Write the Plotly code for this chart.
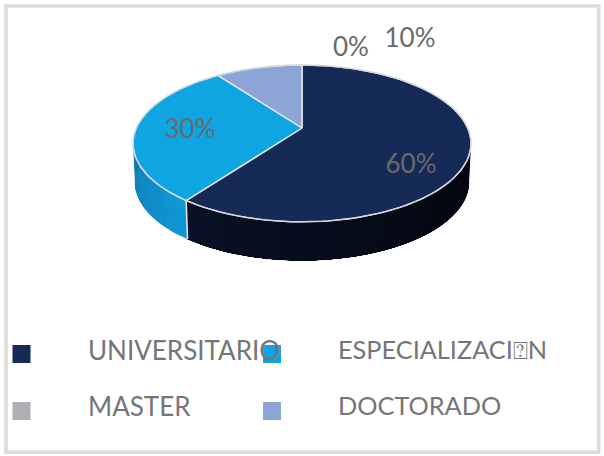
import numpy as np
import plotly.graph_objects as go

categories = ['UNIVERSITARIO', 'ESPECIALIZACI\u2370N', 'MASTER', 'DOCTORADO']
values = [60, 30, 0, 10]
pct_labels = ['60%', '30%', '0%', '10%']
colors = ['#152a57', '#0ea5e2', '#adafb4', '#8ca5d6']

# where the percent labels sit, in pixels
label_x = [411, 190, 351, 410]
label_y = [166, 131, 49, 40]

# legend grid in pixels
legend_sw_x = [21.5, 272, 21.5, 272]
legend_tx_x = [88, 338, 88, 338]
legend_sw_y = [354, 354, 411, 411]
legend_tx_y = [353, 353, 409, 409]
legend_tx_size = [26, 25.3, 26, 25.3]

# perspective of the pie, fitted on the picture
CX, CY = 302, 128
RX, RY = 165.7, 75.4
K = 0.197
DEPTH = 38.5

fig = go.Figure()


def project(t, depth=0.0):
    # t in radians, clockwise from the top
    u, v = np.sin(t), np.cos(t)
    w = 1 + K * v
    sx = 1 - 0.012 * (depth > 0)
    return CX + sx * RX * u / w, CY - RY * v / w + depth


def poly(x, y, fill, line=None, width=0):
    fig.add_trace(go.Scatter(x=list(x), y=list(y), mode='lines', fill='toself',
                             fillcolor=fill, hoverinfo='skip', showlegend=False,
                             line=dict(color=line or fill, width=width)))


def mix(c1, c2, f):
    a = np.array(c1)
    b = np.array(c2)
    r = a + (b - a) * f
    return 'rgb(%d,%d,%d)' % tuple(r)


# slice angles come from the values, first slice starts at the top going clockwise
shares = np.array(values) / sum(values)
edges = np.concatenate([[0], np.cumsum(shares)]) * 2 * np.pi

# outer light rim behind everything
t = np.linspace(np.pi / 2 - 0.05, 3 * np.pi / 2 + 0.05, 120)
xb, yb = project(t, DEPTH)
tt = np.linspace(0, 2 * np.pi, 240)
xt, yt = project(tt)
fig.add_trace(go.Scatter(x=xb, y=yb, mode='lines', line=dict(color='#d0d0d0', width=1.2),
                         hoverinfo='skip', showlegend=False))

# side wall, each strip runs to the end of the wall and the next paints over it (no seams)
wall_ranges = [
    (np.pi / 2 - 0.03, edges[1], (3, 4, 8), (9, 17, 38), 30),
    (edges[1], 3 * np.pi / 2 + 0.03, (16, 150, 210), (20, 120, 175), 12),
]
for a, b, c1, c2, n in wall_ranges:
    cuts = np.linspace(a, b, n + 1)
    for i in range(n):
        s = np.linspace(cuts[i], b, 60)
        x1, y1 = project(s)
        x2, y2 = project(s[::-1], DEPTH)
        poly(np.r_[x1, x2], np.r_[y1, y2], mix(c1, c2, i / (n - 1)))

# white line on the wall at the slice edge
xe1, ye1 = project(np.array([edges[1]]))
xe2, ye2 = project(np.array([edges[1]]), DEPTH)
fig.add_trace(go.Scatter(x=[xe1[0], xe2[0]], y=[ye1[0], ye2[0]], mode='lines',
                         line=dict(color='#e8edf2', width=1.5), hoverinfo='skip', showlegend=False))

# top face
for i, val in enumerate(values):
    if val == 0:
        continue
    s = np.linspace(edges[i], edges[i + 1], 120)
    x, y = project(s)
    poly(np.r_[CX, x, CX], np.r_[CY, y, CY], colors[i], '#e6e8ec', 1.4)

# grey outer rim of the top
fig.add_trace(go.Scatter(x=xt, y=yt, mode='lines', line=dict(color='#d4d6da', width=1.3),
                         hoverinfo='skip', showlegend=False))

# percent labels
fig.add_trace(go.Scatter(x=label_x, y=label_y, mode='text', text=pct_labels,
                         textposition='middle center', hoverinfo='skip', showlegend=False,
                         textfont=dict(family='Lato', size=26, color='#6a6a6a')))

# legend
fig.add_trace(go.Scatter(x=legend_sw_x, y=legend_sw_y, mode='markers', hoverinfo='skip', showlegend=False,
                         marker=dict(symbol='square', size=18, color=colors, line=dict(width=0))))
fig.add_trace(go.Scatter(x=legend_tx_x, y=legend_tx_y, mode='text', text=categories,
                         textposition='middle right', hoverinfo='skip', showlegend=False,
                         textfont=dict(family='Lato, DejaVu Sans', size=legend_tx_size, color='#757579')))

fig.update_layout(
    width=604, height=456,
    margin=dict(l=0, r=0, t=0, b=0),
    paper_bgcolor='white', plot_bgcolor='white',
    xaxis=dict(range=[0, 604], visible=False),
    yaxis=dict(range=[456, 0], visible=False),
    shapes=[dict(type='rect', x0=6, y0=6, x1=598.7, y1=452.3,
                 line=dict(color='#dcdcdc', width=3.6))],
)

# page has a default body margin, drop it
fig.write_html("out.html", post_script="document.body.style.margin='0';",
               config=dict(displayModeBar=False))
